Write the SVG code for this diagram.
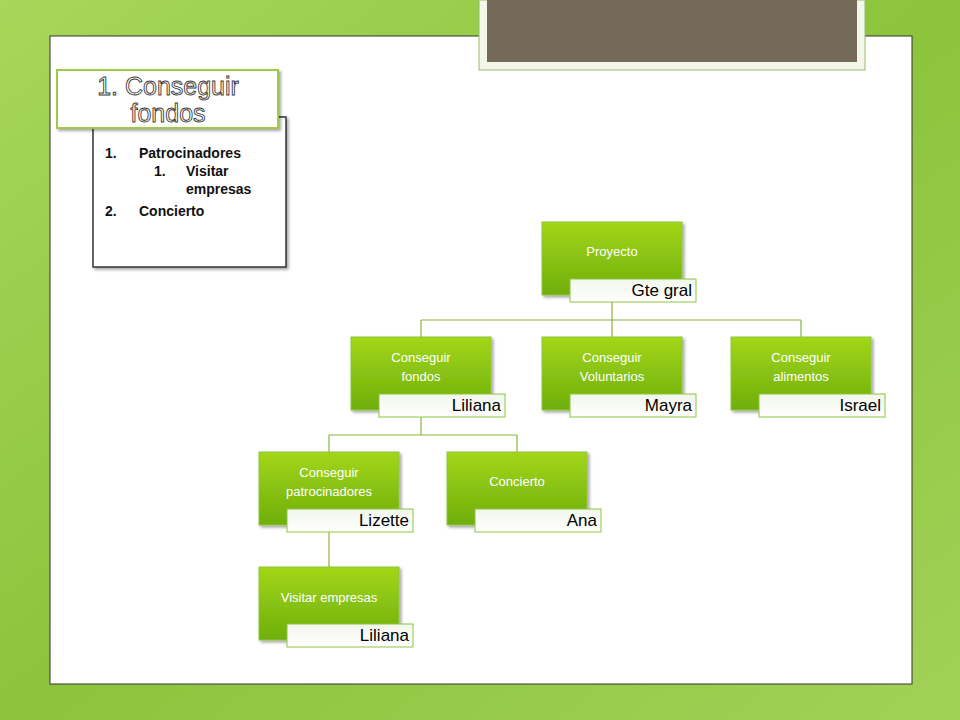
<svg xmlns="http://www.w3.org/2000/svg" width="960" height="720" viewBox="0 0 960 720">
<defs>
<linearGradient id="bg" x1="0" y1="0" x2="1" y2="1"><stop offset="0" stop-color="#a8d65a"/><stop offset="0.5" stop-color="#8cc43c"/><stop offset="1" stop-color="#a2d158"/></linearGradient>
<linearGradient id="ng" x1="0" y1="0" x2="0" y2="1"><stop offset="0" stop-color="#a3d619"/><stop offset="1" stop-color="#6fae0c"/></linearGradient>
<linearGradient id="lg" x1="0" y1="0" x2="0" y2="1"><stop offset="0" stop-color="#f2f6ec"/><stop offset="1" stop-color="#ffffff"/></linearGradient>
<filter id="sh" x="-10%" y="-10%" width="130%" height="130%"><feDropShadow dx="2" dy="2" stdDeviation="1.5" flood-color="#000" flood-opacity="0.35"/></filter>
</defs>
<style>
.n{fill:url(#ng);stroke:#8cc63f;stroke-width:1;filter:url(#sh)}
.l{fill:url(#lg);stroke:#8cc63f;stroke-width:1}
.t{font-family:"Liberation Sans",sans-serif;font-size:13px;fill:#fff;text-anchor:middle}
.lt{font-family:"Liberation Sans",sans-serif;font-size:17px;fill:#000;text-anchor:end}
.c{fill:none;stroke:#8cb53c;stroke-width:1.2}
.b{font-family:"Liberation Sans",sans-serif;font-size:14px;font-weight:bold;fill:#111}
.ti{font-family:"Liberation Sans",sans-serif;font-size:25px;fill:#ffffff;stroke:#3a3a3a;stroke-width:0.9;text-anchor:middle}
</style>
<rect width="960" height="720" fill="url(#bg)"/>
<rect x="50" y="36" width="862" height="648" fill="#fff" stroke="#333" stroke-width="1"/>
<rect x="479" y="0" width="386" height="70" fill="#f2f7ea" stroke="#9aba6a"/>
<rect x="487" y="0" width="370" height="62" fill="#756a5a"/>
<g id="textbox">
<rect x="93" y="117" width="193" height="150" fill="#fff" stroke="#333" stroke-width="1.5" filter="url(#sh)"/>
<text class="b" x="105" y="158">1.</text><text class="b" x="139" y="158">Patrocinadores</text>
<text class="b" x="154" y="176">1.</text><text class="b" x="186" y="176">Visitar</text>
<text class="b" x="186" y="194">empresas</text>
<text class="b" x="105" y="216">2.</text><text class="b" x="139" y="216">Concierto</text>
</g>
<g id="title">
<rect x="57" y="70" width="221" height="58" fill="#fff" stroke="#a0c84a" stroke-width="2" filter="url(#sh)"/>
<text class="ti" x="168" y="95">1. Conseguir</text>
<text class="ti" x="168" y="122">fondos</text>
</g>
<g id="connectors">
<path class="c" d="M612 302V320M421 320H801M421 320V337M612 320V337M801 320V337"/>
<path class="c" d="M421 417V435M329 435H517M329 435V452M517 435V452"/>
<path class="c" d="M329 532V567"/>
</g>
<g id="proyecto"><rect class="n" x="542" y="222" width="140" height="73"/><text class="t" x="612" y="256">Proyecto</text><rect class="l" x="570" y="279" width="126" height="23"/><text class="lt" x="692" y="296">Gte gral</text></g>
<g id="fondos"><rect class="n" x="351" y="337" width="140" height="73"/><text class="t" x="421" y="362">Conseguir</text><text class="t" x="421" y="381">fondos</text><rect class="l" x="379" y="394" width="126" height="23"/><text class="lt" x="501" y="411">Liliana</text></g>
<g id="voluntarios"><rect class="n" x="542" y="337" width="140" height="73"/><text class="t" x="612" y="362">Conseguir</text><text class="t" x="612" y="381">Voluntarios</text><rect class="l" x="570" y="394" width="126" height="23"/><text class="lt" x="692" y="411">Mayra</text></g>
<g id="alimentos"><rect class="n" x="731" y="337" width="140" height="73"/><text class="t" x="801" y="362">Conseguir</text><text class="t" x="801" y="381">alimentos</text><rect class="l" x="759" y="394" width="126" height="23"/><text class="lt" x="881" y="411">Israel</text></g>
<g id="patrocinadores"><rect class="n" x="259" y="452" width="140" height="73"/><text class="t" x="329" y="477">Conseguir</text><text class="t" x="329" y="496">patrocinadores</text><rect class="l" x="287" y="509" width="126" height="23"/><text class="lt" x="409" y="526">Lizette</text></g>
<g id="concierto"><rect class="n" x="447" y="452" width="140" height="73"/><text class="t" x="517" y="486">Concierto</text><rect class="l" x="475" y="509" width="126" height="23"/><text class="lt" x="597" y="526">Ana</text></g>
<g id="visitar"><rect class="n" x="259" y="567" width="140" height="73"/><text class="t" x="329" y="602">Visitar empresas</text><rect class="l" x="287" y="624" width="126" height="23"/><text class="lt" x="409" y="641">Liliana</text></g>
</svg>
